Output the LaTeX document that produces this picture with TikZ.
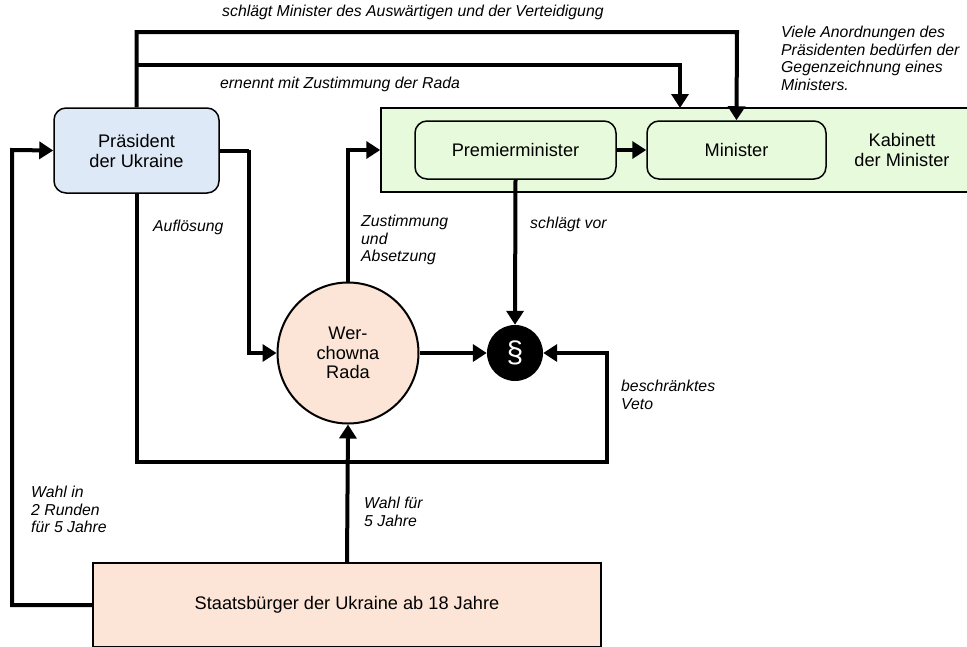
\documentclass[tikz,border=0pt]{standalone}
\usepackage{fontspec}
\setmainfont{Liberation Sans}
\usetikzlibrary{arrows.meta,calc}
\definecolor{presblue}{HTML}{DEE9F7}
\definecolor{kabgreen}{HTML}{E8FADC}
\definecolor{radarose}{HTML}{FCE4D6}
\begin{document}
\begin{tikzpicture}[x=1pt,y=-1pt,
  conn/.style={line width=4pt,-{Triangle[length=14pt,width=17pt]}},
  rbox/.style={draw,line width=1.5pt,rounded corners=12pt,align=center,font=\fontsize{18.2}{20}\selectfont,inner sep=0pt},
  sbox/.style={draw,line width=1.5pt,align=center,font=\fontsize{18.2}{20}\selectfont,inner sep=0pt},
  lab/.style={font=\itshape\fontsize{15.8}{17.6}\selectfont,align=left,inner sep=0pt,anchor=north west}]
\useasboundingbox (0,0) rectangle (967,646);
% boxes
\node[rbox,fill=presblue,minimum width=165pt,minimum height=85pt] (pres) at (136.5,150.5) {Präsident\\der Ukraine};
\node[sbox,fill=kabgreen,minimum width=592pt,minimum height=84pt] (kab) at (677,150) {};
\node[rbox,fill=kabgreen,minimum width=201pt,minimum height=58pt] (pm) at (515.5,150) {Premierminister};
\node[rbox,fill=kabgreen,minimum width=179pt,minimum height=58pt] (min) at (736.5,150) {Minister};
\node[align=center,font=\fontsize{18.2}{20}\selectfont,inner sep=0pt] (kabt) at (902,150) {Kabinett\\der Minister};
\node[circle,draw,line width=2pt,fill=radarose,minimum size=141pt,align=center,inner sep=0pt,font=\fontsize{18.2}{19.5}\selectfont] (rada) at (348,353) {Wer-\\chowna\\Rada};
\node[circle,fill=black,minimum size=56pt,inner sep=0pt,text=white,font=\fontsize{30}{30}\selectfont] (sec) at (515,353) {§};
\node[sbox,fill=radarose,minimum width=508pt,minimum height=84pt] (st) at (347,605) {Staatsbürger der Ukraine ab 18 Jahre};
% helper coordinates
\coordinate (j1) at (136.5,65);
\coordinate (k2) at (680,108);
\coordinate (p1) at (249,150);
\coordinate (v1) at (607,462);
\coordinate (v2) at (12,150);
% connectors
\draw[conn] (pres.north) |- (737,32) -- (min.north);
\draw[conn] (j1) -| (k2);
\draw[conn] (pres.east) -| (p1) |- (rada.west);
\draw[conn] (pres.south) |- (v1) |- (sec.east);
\draw[conn] (st.west) -| (v2) -- (pres.west);
\draw[conn] (st.north) -- (rada.south);
\draw[conn] (rada.north) |- (kab.west);
\draw[conn] (rada.east) -- (sec.west);
\draw[conn] (pm.south) -- (sec.north);
\draw[conn] (pm.east) -- (min.west);
% labels
\node[lab] (l1) at (222,5) {schlägt Minister des Auswärtigen und der Verteidigung};
\node[lab] (l2) at (220,77) {ernennt mit Zustimmung der Rada};
\node[lab] (l3) at (781,26) {Viele Anordnungen des\\Präsidenten bedürfen der\\Gegenzeichnung eines\\Ministers.};
\node[lab] (l4) at (153,220) {Auflösung};
\node[lab] (l5) at (361,215) {Zustimmung\\und\\Absetzung};
\node[lab] (l6) at (530,217) {schlägt vor};
\node[lab] (l7) at (621,380) {beschränktes\\Veto};
\node[lab] (l8) at (31,486) {Wahl in\\2 Runden\\für 5 Jahre};
\node[lab] (l9) at (364,497) {Wahl für\\5 Jahre};
\end{tikzpicture}
\end{document}
